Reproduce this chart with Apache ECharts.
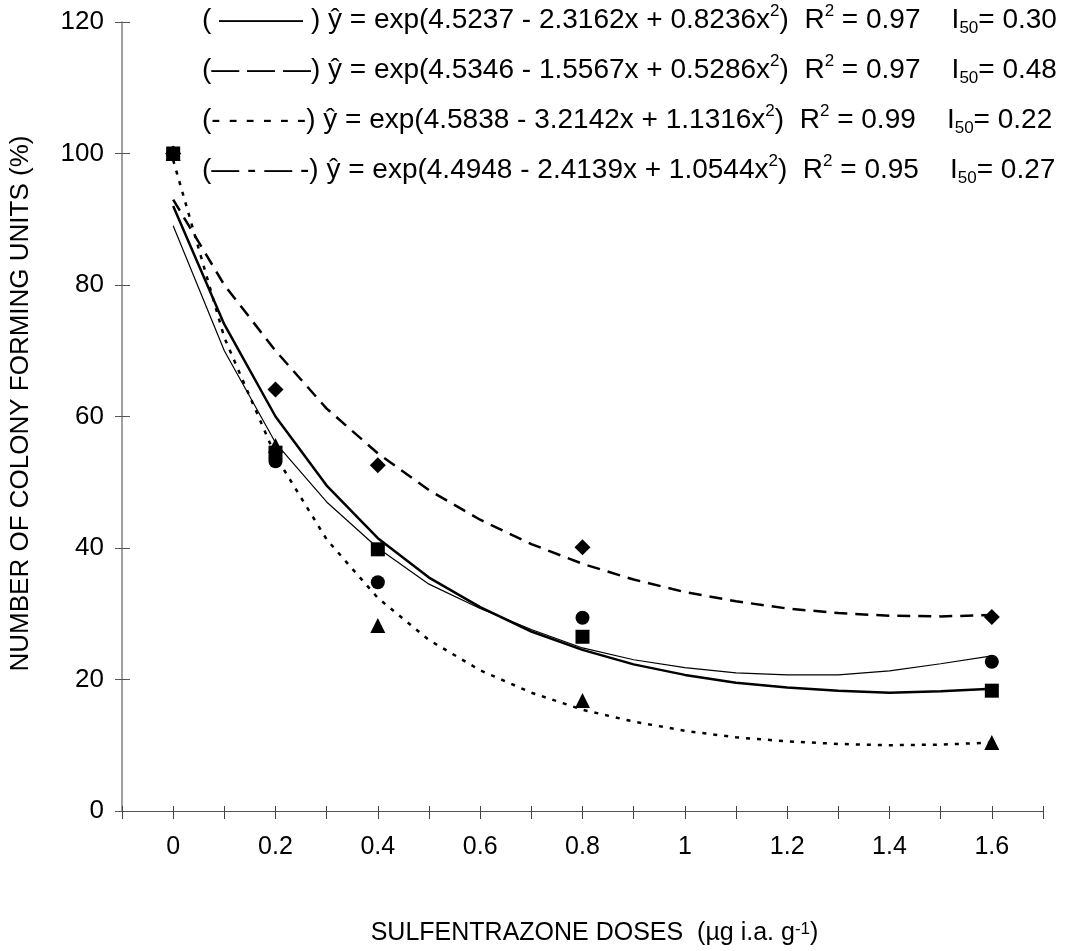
<!DOCTYPE html>
<html>
<head>
<meta charset="utf-8">
<script src="https://cdn.jsdelivr.net/npm/echarts@6/dist/echarts.min.js"></script>
<style>
  html, body { margin: 0; padding: 0; background: #fff; }
  #myChart { width: 1068px; height: 951px; }
</style>
</head>
<body>
<div id="myChart"></div>
<script>
  // observed doses and values (%)
  var doses = [0, 0.2, 0.4, 0.8, 1.6]
  var obsSquare = [100, 54.5, 39.8, 26.5, 18.3]
  var obsCircle = [100, 53.2, 34.8, 29.4, 22.7]
  var obsTriangle = [100, 55.6, 28.2, 16.8, 10.4]
  var obsDiamond = [100, 64.1, 52.6, 40.1, 29.5]

  // fitted curves
  var curveX = [0, 0.1, 0.2, 0.3, 0.4, 0.5, 0.6, 0.7, 0.8, 0.9, 1.0, 1.1, 1.2, 1.3, 1.4, 1.5, 1.6]
  var curveThick = [92, 74, 60, 49.5, 41.5, 35.5, 31, 27.3, 24.5, 22.3, 20.7, 19.5, 18.8, 18.3, 18.0, 18.2, 18.6]
  var curveThin = [89, 70, 56, 47, 40, 34.5, 30.8, 27.6, 24.8, 23, 21.8, 21, 20.7, 20.7, 21.3, 22.4, 23.6]
  var curveDash = [93, 80, 70, 61.2, 54.4, 48.8, 44.3, 40.6, 37.6, 35.2, 33.3, 31.9, 30.8, 30.1, 29.7, 29.6, 29.8]
  var curveDot = [99, 72, 54, 41.3, 32.4, 26, 21.4, 18, 15.4, 13.6, 12.2, 11.2, 10.6, 10.2, 10.0, 10.1, 10.4]

  var xTickLabels = ['0', '0.2', '0.4', '0.6', '0.8', '1', '1.2', '1.4', '1.6']

  // equation legend
  var eqSamples = ['( \u2014\u2014\u2014 )', '(\u2014 \u2014 \u2014)', '(- - - - - -)', '(\u2014 - \u2014 -)']
  var eqA = ['4.5237', '4.5346', '4.5838', '4.4948']
  var eqB = ['2.3162', '1.5567', '3.2142', '2.4139']
  var eqC = ['0.8236', '0.5286', '1.1316', '1.0544']
  var r2Vals = ['0.97', '0.97', '0.99', '0.95']
  var i50Vals = ['0.30', '0.48', '0.22', '0.27']

  var fontFam = 'Liberation Sans, Arial, sans-serif'

  function pairs(xs, ys) {
    return xs.map(function (x, i) { return [x, ys[i]] })
  }

  var richText = {
    sup: { fontSize: 17, fontFamily: fontFam, verticalAlign: 'top', lineHeight: 18, color: '#000', fill: '#000' },
    sub: { fontSize: 17, fontFamily: fontFam, verticalAlign: 'bottom', lineHeight: 18, color: '#000', fill: '#000' }
  }

  var graphics = []
  for (var i = 0; i < 4; i++) {
    graphics.push({
      type: 'text', left: 202, top: 20 + i * 50 - 17,
      style: {
        text: eqSamples[i] + ' \u0177 = exp(' + eqA[i] + ' - ' + eqB[i] + 'x + ' + eqC[i] + 'x{sup|2})' +
          '  R{sup|2} = ' + r2Vals[i] + '    I{sub|50}= ' + i50Vals[i],
        fontSize: 28, fontFamily: fontFam, fill: '#000', lineHeight: 34, rich: richText
      }
    })
  }

  function xTickFormatter(v) {
    var k = Math.round(v * 10)
    if (k < 0 || k % 2 !== 0) return ''
    return xTickLabels[k / 2] || ''
  }

  var myChart = echarts.init(document.getElementById('myChart'))
  var option = {
    animation: false,
    backgroundColor: '#fff',
    textStyle: { fontFamily: fontFam },
    grid: { left: 111, right: 25, top: 22, bottom: 137 },
    xAxis: [
      {
        type: 'value',
        min: -0.1,
        max: 1.7,
        interval: 0.1,
        name: 'SULFENTRAZONE DOSES  (\u00b5g i.a. g{sup|-1})',
        nameLocation: 'middle',
        nameGap: 110,
        nameTextStyle: { fontSize: 25, color: '#000', fontFamily: fontFam, rich: richText, padding: [0, 0, 0, 24] },
        axisLine: { lineStyle: { color: '#555', width: 1 } },
        axisTick: { length: 8, lineStyle: { color: '#444' } },
        splitLine: { show: false },
        axisLabel: { fontSize: 25, color: '#000', margin: 24, formatter: xTickFormatter }
      },
      {
        // inner half of the crossing ticks
        type: 'value', position: 'bottom', min: -0.1, max: 1.7, interval: 0.1,
        axisLine: { show: false },
        axisTick: { inside: true, length: 5, lineStyle: { color: '#444' } },
        axisLabel: { show: false },
        splitLine: { show: false }
      }
    ],
    yAxis: [
      {
        type: 'value',
        min: 0,
        max: 120,
        interval: 20,
        name: 'NUMBER OF COLONY FORMING UNITS (%)',
        nameLocation: 'middle',
        nameRotate: 90,
        nameGap: 88,
        nameTextStyle: { fontSize: 26, color: '#000', fontFamily: fontFam, padding: [0, 0, 0, 26] },
        axisLine: { show: true, onZero: false, lineStyle: { color: '#808080', width: 1.5 } },
        axisTick: { show: true, length: 7, lineStyle: { color: '#555' } },
        splitLine: { show: false },
        axisLabel: { fontSize: 26, color: '#000', margin: 18 }
      },
      {
        type: 'value', position: 'left', min: 0, max: 120, interval: 20,
        axisLine: { show: false, onZero: false },
        axisTick: { show: true, inside: true, length: 8, lineStyle: { color: '#555' } },
        axisLabel: { show: false },
        splitLine: { show: false }
      }
    ],
    graphic: graphics,
    series: [
      {
        type: 'line', data: pairs(curveX, curveThin), symbol: 'none',
        lineStyle: { color: '#000', width: 1.2, type: 'solid' }, z: 2
      },
      {
        type: 'line', data: pairs(curveX, curveThick), symbol: 'none',
        lineStyle: { color: '#000', width: 2.5, type: 'solid' }, z: 2
      },
      {
        type: 'line', data: pairs(curveX, curveDash), symbol: 'none',
        lineStyle: { color: '#000', width: 2.5, type: [13, 8] }, z: 2
      },
      {
        type: 'line', data: pairs(curveX, curveDot), symbol: 'none',
        lineStyle: { color: '#000', width: 2.5, type: [4, 7] }, z: 2
      },
      {
        type: 'scatter', data: pairs(doses, obsDiamond), symbol: 'diamond', symbolSize: 16,
        itemStyle: { color: '#000', opacity: 1 }, z: 3
      },
      {
        type: 'scatter', data: pairs(doses, obsTriangle), symbol: 'triangle', symbolSize: 15,
        itemStyle: { color: '#000', opacity: 1 }, z: 3
      },
      {
        type: 'scatter', data: pairs(doses, obsCircle), symbol: 'circle', symbolSize: 14,
        itemStyle: { color: '#000', opacity: 1 }, z: 3
      },
      {
        type: 'scatter', data: pairs(doses, obsSquare), symbol: 'rect', symbolSize: 14,
        itemStyle: { color: '#000', opacity: 1 }, z: 4
      }
    ]
  }
  myChart.setOption(option)
</script>
</body>
</html>
